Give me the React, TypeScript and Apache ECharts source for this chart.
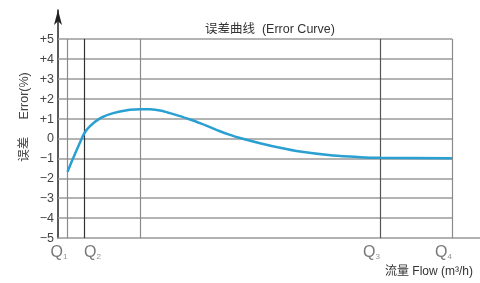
import React, { useEffect, useRef } from "react";
import * as echarts from "echarts";

// Flow positions (arbitrary axis units) of the reference flow points
const qNames = ["1", "2", "3", "4"];
const qPositions = [9.5, 26, 322, 394];
const extraLine = 82;
const xMax = 422;
// Error values (%) along the flow axis
const flowValues = [9.5, 13.7, 18.7, 22, 26.3, 32, 42, 52, 62, 72, 82, 92, 102, 112, 122, 132, 142, 152, 162, 172, 182, 202, 222, 242, 275, 302, 322, 394];
const errorValues = [-1.67, -1.16, -0.58, -0.2, 0.26, 0.62, 1.01, 1.22, 1.35, 1.44, 1.47, 1.46, 1.4, 1.27, 1.12, 0.95, 0.77, 0.57, 0.36, 0.18, 0.02, -0.24, -0.47, -0.66, -0.86, -0.94, -0.97, -1.0];
const yTicks = [-5, -4, -3, -2, -1, 0, 1, 2, 3, 4, 5];

export default function App() {
  const ref = useRef<HTMLDivElement>(null);
  useEffect(() => {
    if (!ref.current) return;
    const chart = echarts.init(ref.current, undefined, { renderer: "svg" });
    const curve = flowValues.map((x, i) => [x, errorValues[i]]);
    const hLines = yTicks
      .filter((v) => v > -5)
      .map((v) => [
        { coord: [0, v], lineStyle: { color: "#9a9a9a", width: 1.5, type: "solid" } },
        { coord: [qPositions[3], v] },
      ]);
    const vDefs = [
      { x: qPositions[0], color: "#8a8a8a" },
      { x: qPositions[1], color: "#333333" },
      { x: extraLine, color: "#8a8a8a" },
      { x: qPositions[2], color: "#555555" },
      { x: qPositions[3], color: "#8a8a8a" },
    ];
    const vLines = vDefs.map((d) => [
      { coord: [d.x, -5], lineStyle: { color: d.color, width: 1.2, type: "solid" } },
      { coord: [d.x, 5] },
    ]);
    const labelOffsets = [
      { align: "right", offset: [7, 0] },
      { align: "left", offset: [-2, 0] },
      { align: "right", offset: [7, 0] },
      { align: "right", offset: [3, 0] },
    ];
    const cjk = "Liberation Sans, Noto Sans CJK SC, sans-serif";
    chart.setOption({
      animation: false,
      textStyle: { fontFamily: "Liberation Sans, Arial, sans-serif" },
      title: {
        text: "误差曲线  (Error Curve)",
        left: 200,
        top: 18,
        textStyle: { fontSize: 12.5, fontWeight: "normal", color: "#333", fontFamily: cjk },
      },
      grid: { left: 58, right: 0, top: 10, bottom: 45, containLabel: false, outerBoundsMode: "none" },
      xAxis: {
        type: "value",
        min: 0,
        max: xMax,
        splitLine: { show: false },
        axisLine: { show: true, onZero: false, lineStyle: { color: "#999", width: 1.5 } },
        axisTick: { show: false },
        axisLabel: { show: false },
      },
      yAxis: {
        type: "value",
        min: -5,
        max: 6.45,
        interval: 1,
        splitLine: { show: false },
        axisTick: { show: false },
        axisLine: { show: true, symbol: ["none", "arrow"], symbolSize: [6, 15], lineStyle: { color: "#222", width: 1.5 } },
        axisLabel: {
          margin: 4,
          fontSize: 12.5,
          color: "#444",
          formatter: (v: number) => (v > 5 ? "" : v > 0 ? "+" + v : v < 0 ? "−" + Math.abs(v) : "0"),
        },
      },
      graphic: [
        {
          type: "text",
          x: 24,
          y: 117,
          rotation: Math.PI / 2,
          style: {
            text: "误差     Error(%)",
            fontSize: 12.5,
            fill: "#444",
            fontFamily: cjk,
            align: "center",
            verticalAlign: "middle",
          },
        },
        {
          type: "text",
          left: 385,
          top: 265,
          style: { text: "流量 Flow (m³/h)", fontSize: 12, fill: "#333", fontFamily: cjk },
        },
      ],
      series: [
        {
          type: "line",
          data: [],
          silent: true,
          markLine: {
            silent: true,
            symbol: "none",
            label: { show: false },
            data: [...hLines, ...vLines],
          },
        },
        {
          type: "scatter",
          silent: true,
          symbolSize: 0,
          clip: false,
          data: qPositions.map((q, i) => ({
            value: [q, -5],
            name: qNames[i],
            label: labelOffsets[i],
          })),
          label: {
            show: true,
            position: "bottom",
            distance: 5,
            formatter: (p: any) => "Q{s|" + p.name + "}",
            color: "#555",
            fontSize: 16,
            rich: { s: { fontSize: 8, color: "#777", padding: [9, 0, 0, 0] } },
          },
          labelLayout: { hideOverlap: false },
        },
        {
          type: "line",
          data: curve,
          smooth: 0.3,
          showSymbol: false,
          lineStyle: { color: "#2aa0d2", width: 2.5 },
          z: 5,
        },
      ],
    });
    return () => chart.dispose();
  }, []);
  return <div ref={ref} style={{ position: "fixed", left: 0, top: 0, width: 480, height: 283 }} />;
}
